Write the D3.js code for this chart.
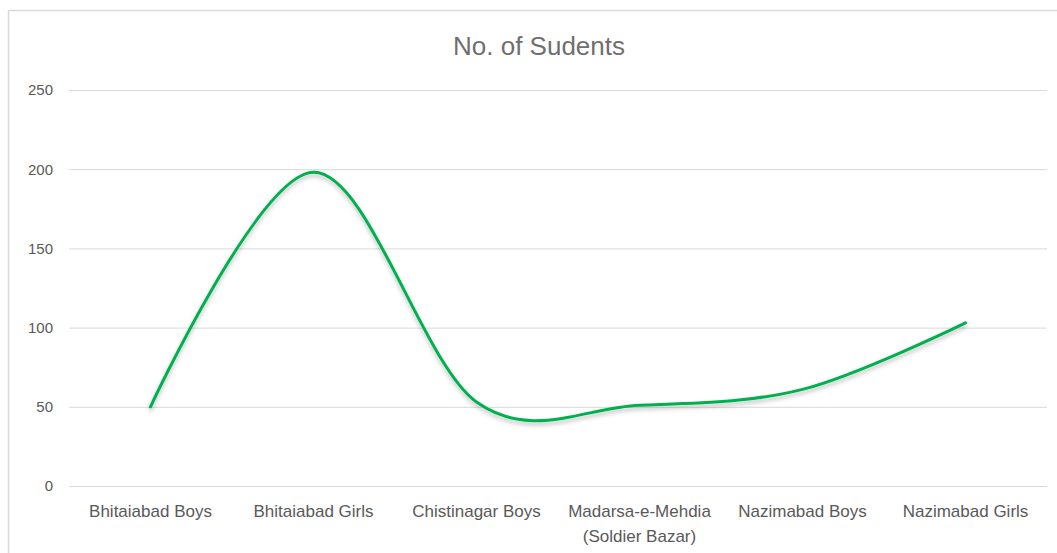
<!DOCTYPE html>
<html>
<head>
<meta charset="utf-8">
<script src="https://cdn.jsdelivr.net/npm/d3@7"></script>
<style>
  body { margin: 0; background: #fff; }
  text { font-family: "Liberation Sans", sans-serif; fill: #595959; }
</style>
</head>
<body>
<div id="chart"></div>
<script>
const categories = ["Bhitaiabad Boys", "Bhitaiabad Girls", "Chistinagar Boys",
  "Madarsa-e-Mehdia (Soldier Bazar)", "Nazimabad Boys", "Nazimabad Girls"];
const students = [50, 198, 53, 51, 61, 103];
const yTicks = [0, 50, 100, 150, 200, 250];
const chartTitle = "No. of Sudents";

const W = 1057, H = 553;
const margin = { top: 90, right: 10, bottom: 67, left: 69 },
    width = 1047 - margin.left,
    height = H - margin.top - margin.bottom;

const svg = d3.select("#chart")
    .append("svg")
    .attr("width", W)
    .attr("height", H);

// chart area border
svg.append("rect")
    .attr("x", 8.5).attr("y", 10.5)
    .attr("width", W + 10).attr("height", H + 10)
    .attr("fill", "#fff")
    .attr("stroke", "#d9d9d9")
    .attr("stroke-width", 1.5);

svg.append("text")
    .attr("x", 539).attr("y", 55)
    .attr("text-anchor", "middle")
    .style("font-size", "26px")
    .style("fill", "#6f6f6f")
    .text(chartTitle);

const defs = svg.append("defs");
const f = defs.append("filter").attr("id", "shadow")
    .attr("x", "-5%").attr("y", "-5%").attr("width", "110%").attr("height", "120%");
f.append("feDropShadow")
    .attr("dx", 0).attr("dy", 3).attr("stdDeviation", 2)
    .attr("flood-color", "#000").attr("flood-opacity", 0.25);

const g = svg.append("g")
    .attr("transform", "translate(" + margin.left + "," + margin.top + ")");

const x = d3.scaleBand()
    .domain(categories)
    .range([0, width]);

const y = d3.scaleLinear()
    .domain([0, 250])
    .range([height, 0]);

// gridlines + y labels
const yAxis = g.append("g")
    .call(d3.axisLeft(y).tickValues(yTicks).tickSize(-width).tickPadding(16));
yAxis.select(".domain").remove();
yAxis.selectAll("line").attr("stroke", "#d9d9d9").attr("stroke-width", 1);
yAxis.selectAll("text").style("font-size", "15px").attr("fill", "#595959");

// x labels
const xAxis = g.append("g")
    .attr("transform", "translate(0," + height + ")")
    .call(d3.axisBottom(x).tickSize(0).tickPadding(20));
xAxis.select(".domain").remove();
xAxis.selectAll("text").remove();
xAxis.selectAll(".tick").each(function(d) {
  const t = d3.select(this).append("text")
      .attr("text-anchor", "middle")
      .style("font-size", "17px");
  const m = d.match(/^(.*) (\(.*\))$/);
  const lines = m ? [m[1], m[2]] : [d];
  lines.forEach((l, i) => {
    t.append("tspan").attr("x", 0).attr("y", 31 + i * 25).text(l);
  });
});

const line = d3.line()
    .x((d, i) => x(categories[i]) + x.bandwidth() / 2)
    .y(d => y(d))
    .curve(d3.curveCardinal.tension(0));

g.append("path")
    .datum(students)
    .attr("fill", "none")
    .attr("stroke", "#00b050")
    .attr("stroke-width", 3)
    .attr("stroke-linecap", "round")
    .attr("filter", "url(#shadow)")
    .attr("d", line);
</script>
</body>
</html>
